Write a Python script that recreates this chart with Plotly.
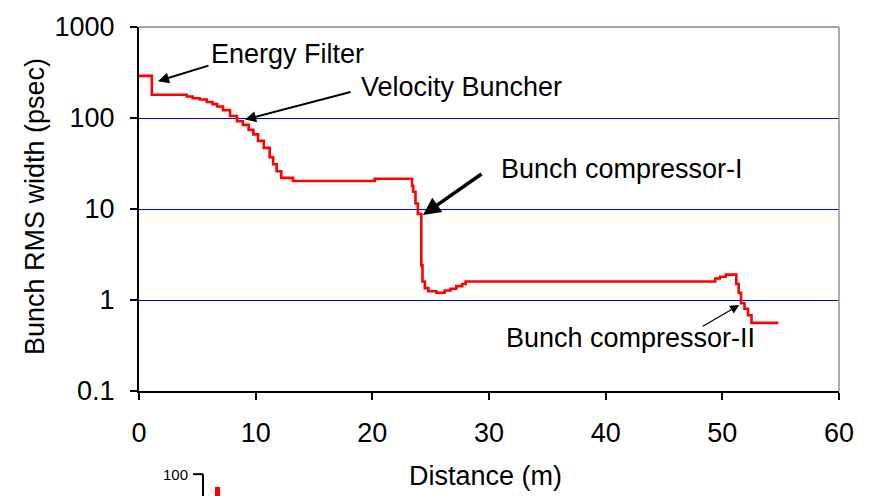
import plotly.graph_objects as go
import math

# Bunch RMS width along the beam line
distance_m = [0, 1.1, 4.1, 4.6, 5.2, 5.8, 6.3, 6.7, 7.2, 7.8, 8.4, 8.9, 9.4, 9.8,
              10.2, 10.7, 11.2, 11.5, 11.8, 12.2, 13.2, 20.2, 23.4, 23.5, 23.7, 23.9,
              24.2, 24.3, 24.5, 24.8, 25.5, 26.2, 26.7, 27.2, 27.7, 28.0, 49.4, 49.8,
              50.3, 51.2, 51.4, 51.6, 51.9, 52.2, 52.5, 54.8]
rms_width_ps = [290, 180, 172, 165, 160, 150, 142, 134, 122, 105, 92, 84, 74, 66,
                56, 47, 37, 31, 26, 22, 20.3, 21.5, 18, 15.5, 11.5, 8.8,
                2.4, 1.6, 1.35, 1.25, 1.2, 1.27, 1.33, 1.42, 1.5, 1.6, 1.72, 1.8,
                1.9, 1.5, 1.2, 0.92, 0.8, 0.68, 0.56, 0.56]

y_ticks = [0.1, 1, 10, 100, 1000]
y_tick_text = ["0.1", "1", "10", "100", "1000"]
x_ticks = [0, 10, 20, 30, 40, 50, 60]

# Labelled components: (label, distance, width at arrow tip)
components = [
    ("Energy Filter", 1.63, 254),
    ("Velocity Buncher", 9.09, 96),
    ("Bunch compressor-I", 24.34, 8.6),
    ("Bunch compressor-II", 51.45, 0.88),
]

W, H = 869, 496
L, R, T, B = 139, 30, 19, 105
PW, PH = W - L - R, H - T - B
FONT = "Liberation Sans, Arial, sans-serif"
FS = 27


def px(xp):
    return (xp - L) / PW


def py(yp):
    return (H - B - yp) / PH


def text_at(x, y, text, size=FS, angle=0):
    fig.add_annotation(x=px(x), y=py(y), xref="paper", yref="paper",
                       text=text, showarrow=False, textangle=angle,
                       xanchor="center", yanchor="middle",
                       font=dict(family=FONT, size=size, color="black"))


fig = go.Figure()
fig.add_trace(go.Scatter(
    x=distance_m, y=rms_width_ps, mode="lines", line_shape="hv",
    line=dict(color="#ff0000", width=2.6), showlegend=False, hoverinfo="skip"))

# label text centres (pixels) and arrow tails (pixel offsets from tip)
text_pos = [(287, 47), (461, 80), (622, 164), (630, 337)]
arrow_tail = [(52, -16), (107, -28), (60, -42), (-38, 22)]
arrow_w = [2, 2, 3.5, 1.2]
arrow_size = [1.1, 1.1, 1.0, 1.5]

for (label, xd, yd), (tx, ty), (ax, ay), aw, asz in zip(
        components, text_pos, arrow_tail, arrow_w, arrow_size):
    text_at(tx, ty, label)
    fig.add_annotation(x=xd, y=math.log10(yd), xref="x", yref="y",
                       text="", showarrow=True, ax=ax, ay=ay,
                       arrowhead=2, arrowsize=asz, arrowwidth=aw, arrowcolor="black",
                       standoff=0, startstandoff=0)

# axis titles
text_at(485, 478, "Distance (m)")
text_at(35, 203, "Bunch RMS width (psec)", angle=-90)

# frame: top and right edges of the plot area
fig.add_shape(type="line", xref="paper", yref="paper", x0=0, x1=1, y0=1, y1=1,
              line=dict(color="#8080a8", width=1.5))
fig.add_shape(type="line", xref="paper", yref="paper", x0=1, x1=1, y0=0, y1=1,
              line=dict(color="#909090", width=1.5))

# edge of the next panel below
text_at(175, 476, "100", size=15)
fig.add_shape(type="line", xref="paper", yref="paper",
              x0=px(193), x1=px(203), y0=py(476), y1=py(476),
              line=dict(color="black", width=2))
fig.add_shape(type="line", xref="paper", yref="paper",
              x0=px(203), x1=px(203), y0=py(476), y1=py(500),
              line=dict(color="black", width=2))
fig.add_shape(type="rect", xref="paper", yref="paper",
              x0=px(215), x1=px(220), y0=py(489), y1=py(500),
              line=dict(width=0), fillcolor="#ff0000")

fig.update_layout(
    width=W, height=H, margin=dict(l=L, r=R, t=T, b=B),
    paper_bgcolor="white", plot_bgcolor="white",
    font=dict(family=FONT, size=FS, color="black"),
    xaxis=dict(range=[0, 60], tickvals=x_ticks, ticks="outside", ticklen=7,
               tickwidth=2, tickcolor="black", showline=True, linecolor="black",
               linewidth=2, showgrid=False, zeroline=False, ticklabelstandoff=10,
               tickfont=dict(family=FONT, size=FS)),
    yaxis=dict(type="log", range=[-1, 3], tickvals=y_ticks, ticktext=y_tick_text,
               ticks="outside", ticklen=7, tickwidth=2, tickcolor="black",
               showline=True, linecolor="black", linewidth=2,
               showgrid=True, gridcolor="#0000ff", gridwidth=1, zeroline=False,
               ticklabelstandoff=10, tickfont=dict(family=FONT, size=FS)),
)

fig.write_html("out.html")
